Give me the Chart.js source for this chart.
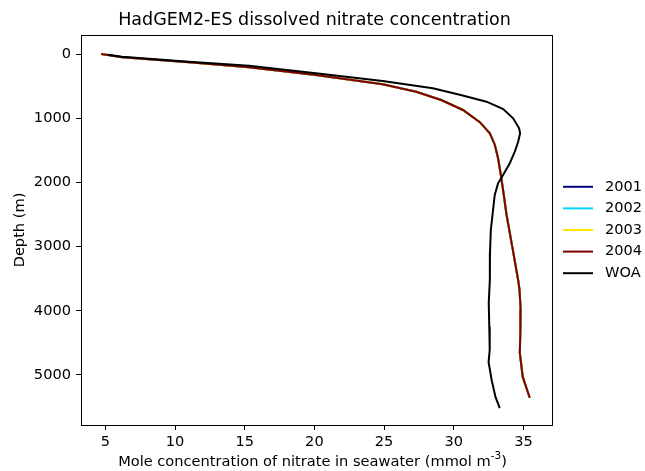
<!DOCTYPE html>
<html>
<head>
<meta charset="utf-8">
<script src="https://cdn.jsdelivr.net/npm/chart.js@4.4.0/dist/chart.umd.min.js"></script>
<style>
    html, body { margin: 0; padding: 0; background: #fff; }
    #wrap { width: 645px; height: 471px; }
</style>
</head>
<body>
<div id="wrap"><canvas id="chart" width="645" height="471"></canvas></div>
<script>
// Chart data
const seriesNames = ['2001', '2002', '2003', '2004', 'WOA'];
const seriesColors = ['#000080', '#00d4ff', '#ffe500', '#800000', '#000000'];

// HadGEM2-ES profile (the model years lie on top of each other)
const modelDepth = [0, 50, 130, 207, 327, 472, 587, 717, 872, 1062, 1235, 1417, 1625, 1885, 2196, 2508, 3005, 3520, 3675, 3990, 4300, 4655, 5030, 5355];
const modelNitrate = [4.7, 6.2, 11.0, 15.3, 20.1, 24.9, 27.3, 29.1, 30.66, 31.87, 32.59, 32.95, 33.18, 33.38, 33.59, 33.79, 34.2, 34.62, 34.72, 34.8, 34.78, 34.74, 34.95, 35.45];

// World Ocean Atlas profile
const woaDepth = [5, 16, 42, 120, 182, 301, 421, 534, 639, 743, 857, 1002, 1157, 1235, 1366, 1522, 1703, 1885, 2014, 2196, 2508, 2741, 3100, 3520, 3880, 4250, 4610, 4800, 5080, 5345, 5515];
const woaNitrate = [5.2, 5.3, 6.2, 11.0, 15.3, 20.1, 24.9, 28.5, 30.5, 32.35, 33.55, 34.26, 34.69, 34.76, 34.62, 34.38, 34.02, 33.54, 33.18, 32.94, 32.78, 32.66, 32.6, 32.59, 32.51, 32.55, 32.58, 32.5, 32.72, 33.0, 33.3];

const xTickValues = [5, 10, 15, 20, 25, 30, 35];
const yTickValues = [0, 1000, 2000, 3000, 4000, 5000];

const FONT = 'DejaVu Sans';
const LABEL_SIZE = 14.6;
const TITLE_SIZE = 17.5;

function profile(values, depths) {
    return values.map((v, i) => ({ x: v, y: depths[i] }));
}

// later series sit on top, like matplotlib
const datasets = seriesNames.map((name, i) => {
    const isWoa = name === 'WOA';
    return {
        label: name,
        data: isWoa ? profile(woaNitrate, woaDepth) : profile(modelNitrate, modelDepth),
        borderColor: seriesColors[i],
        backgroundColor: seriesColors[i],
        borderWidth: 2,
        pointRadius: 0,
        showLine: true,
        tension: 0,
        fill: false,
        order: seriesNames.length - 1 - i
    };
});

// Draws the frame, titles and the legend the way matplotlib did
const decorations = {
    id: 'decorations',
    afterDraw(chart) {
        const ctx = chart.ctx;
        const a = chart.chartArea;
        ctx.save();
        ctx.strokeStyle = '#000';
        ctx.lineWidth = 1;
        ctx.strokeRect(Math.round(a.left) + 0.5, Math.round(a.top) + 0.5,
            Math.round(a.right - a.left), Math.round(a.bottom - a.top));

        const midX = (a.left + a.right) / 2;
        ctx.fillStyle = '#000';
        ctx.textBaseline = 'middle';

        // title
        ctx.font = TITLE_SIZE + 'px "' + FONT + '"';
        ctx.textAlign = 'center';
        ctx.fillText('HadGEM2-ES dissolved nitrate concentration', midX - 2, 20);

        // x axis title with superscript
        const big = LABEL_SIZE + 'px "' + FONT + '"';
        const small = '10.5px "' + FONT + '"';
        const main = 'Mole concentration of nitrate in seawater (mmol m';
        const sup = '-3';
        const tail = ')';
        ctx.font = big;
        const wMain = ctx.measureText(main).width;
        const wTail = ctx.measureText(tail).width;
        ctx.font = small;
        const wSup = ctx.measureText(sup).width;
        let x = midX - 4 - (wMain + wSup + wTail) / 2;
        ctx.textAlign = 'left';
        ctx.font = big;
        ctx.fillText(main, x, 462);
        x += wMain;
        ctx.font = small;
        ctx.fillText(sup, x, 456);
        x += wSup;
        ctx.font = big;
        ctx.fillText(tail, x, 462);

        // y axis title
        ctx.save();
        ctx.translate(20, (a.top + a.bottom) / 2);
        ctx.rotate(-Math.PI / 2);
        ctx.textAlign = 'center';
        ctx.fillText('Depth (m)', 0, 0);
        ctx.restore();

        // legend
        const rowGap = 21.6;
        const firstRow = 230 - rowGap * (chart.data.datasets.length - 1) / 2;
        chart.data.datasets.forEach((ds, i) => {
            const y = firstRow + i * rowGap;
            ctx.strokeStyle = ds.borderColor;
            ctx.lineWidth = 2;
            ctx.beginPath();
            ctx.moveTo(563, y);
            ctx.lineTo(593, y);
            ctx.stroke();
            ctx.fillStyle = '#000';
            ctx.textAlign = 'left';
            ctx.font = big;
            ctx.fillText(ds.label, 605, y);
        });
        ctx.restore();
    }
};

const tickFont = { family: FONT, size: LABEL_SIZE };

new Chart(document.getElementById('chart').getContext('2d'), {
    type: 'scatter',
    data: { datasets },
    options: {
        responsive: false,
        animation: false,
        layout: { padding: { top: 35, right: 93, left: 0, bottom: 0 } },
        plugins: {
            legend: { display: false },
            title: { display: false },
            tooltip: { enabled: false }
        },
        scales: {
            x: {
                type: 'linear',
                min: 3.25,
                max: 37.05,
                afterBuildTicks: (scale) => { scale.ticks = xTickValues.map(v => ({ value: v })); },
                afterFit: (scale) => { scale.height = 46; },
                grid: { drawOnChartArea: false, drawTicks: true, tickLength: 5, color: '#000', lineWidth: 1 },
                border: { display: true, color: '#000', width: 1 },
                ticks: { font: tickFont, color: '#000', padding: 3, maxRotation: 0, callback: (v) => String(v) }
            },
            y: {
                type: 'linear',
                reverse: true,
                min: -296,
                max: 5779,
                afterBuildTicks: (scale) => { scale.ticks = yTickValues.map(v => ({ value: v })); },
                afterFit: (scale) => { scale.width = 81; },
                grid: { drawOnChartArea: false, drawTicks: true, tickLength: 5, color: '#000', lineWidth: 1 },
                border: { display: true, color: '#000', width: 1 },
                ticks: { font: tickFont, color: '#000', padding: 5, callback: (v) => String(v) }
            }
        }
    },
    plugins: [decorations]
});
</script>
</body>
</html>
